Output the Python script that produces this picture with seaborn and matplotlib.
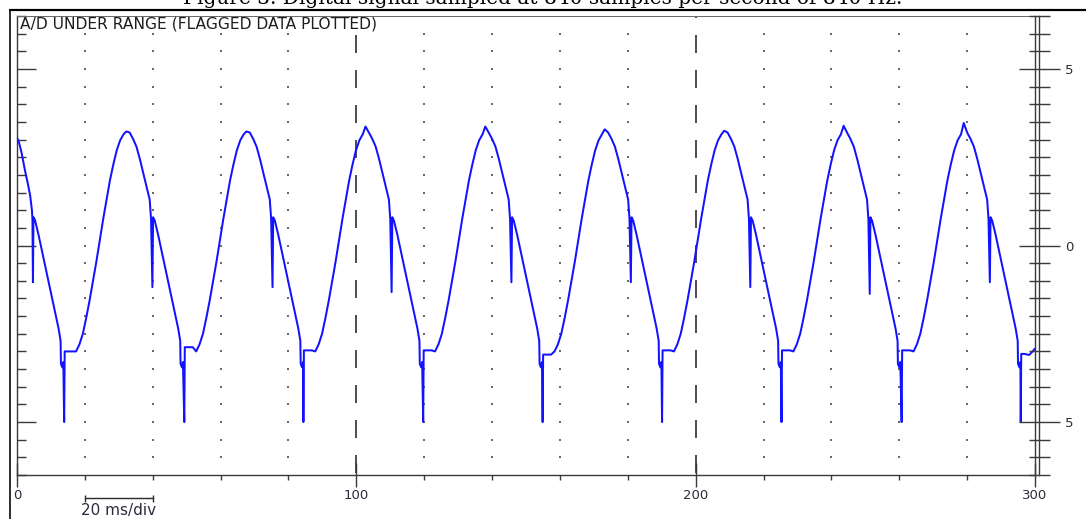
import numpy as np
import pandas as pd
import matplotlib
matplotlib.use("Agg")
import matplotlib.pyplot as plt
import matplotlib.transforms as mtransforms
from matplotlib.lines import Line2D
from matplotlib.ticker import FixedLocator, MultipleLocator
import seaborn as sns

# ---------------------------------------------------------------- data ----
caption = "Figure 3. Digital signal sampled at 840 samples per second of 840 Hz."
status_text = "A/D UNDER RANGE (FLAGGED DATA PLOTTED)"
scale_text = "20 ms/div"

# falling edge at the start of the record (ms, V)
lead_ms = [0.0, 0.5, 1.3, 2.3, 3.2, 3.9, 4.4, 4.55, 4.7, 4.85, 5.3, 6.35, 7.35,
           8.35, 9.35, 10.35, 11.35, 12.25, 12.85, 12.95, 13.35, 13.65]
lead_v = [3.05, 2.95, 2.65, 2.15, 1.75, 1.4, 1.0, 0.75, -1.04, 0.8, 0.72, 0.3,
          -0.15, -0.6, -1.05, -1.5, -1.95, -2.35, -2.7, -3.35, -3.45, -3.3]

# under-range flags (plotted at the -5 V floor) and per-cycle readings
spike_ms = [13.9, 49.3, 84.4, 119.7, 154.9, 190.1, 225.3, 260.7, 295.8]
flag_v = -5.0
floor_v = [-3.0, -2.88, -2.97, -2.97, -3.09, -2.97, -2.97, -2.97, -3.05]
peak_v = [3.23, 3.23, 3.37, 3.37, 3.29, 3.25, 3.39, 3.47]
glitch_v = [-1.18, -1.18, -1.32, -1.04, -1.04, -1.18, -1.37, -1.04]

# waveform of one period, offsets in ms after each flag
floor_off = [0.15, 1.0, 2.5]
rise_off = [3.5, 4.5, 5.5, 6.5, 7.5, 8.5, 9.5, 10.5, 11.5, 12.5, 13.5, 14.5,
            15.5, 16.5, 17.5]
rise_v = [-3.0, -2.8, -2.5, -2.05, -1.55, -1.0, -0.45, 0.15, 0.75, 1.3, 1.85,
          2.3, 2.7, 2.98, 3.15]
peak_off = 18.3
fall_off = [19.3, 20.3, 21.3, 22.3, 23.3, 24.3, 25.2, 25.6]
fall_v = [3.2, 3.02, 2.8, 2.45, 2.05, 1.65, 1.3, 0.75]
glitch_off = 26.0
tail_off = [26.2, 26.7, 27.7, 28.7, 29.7, 30.7, 31.7, 32.7, 33.6, 34.2, 34.3,
            34.7, 35.0]
tail_v = [0.8, 0.7, 0.3, -0.15, -0.6, -1.05, -1.5, -1.95, -2.35, -2.7, -3.35,
          -3.45, -3.3]

# the record ends on the floor after the last flag
end_off = [0.15, 1.0, 2.5, 3.5, 4.2]
end_v = [-3.07, -3.07, -3.1, -3.0, -2.92]

x_major = [0, 100, 200, 300]
x_labels = ["0", "100", "200", "300"]
y_major = [-5, 0, 5]
y_labels = ["5", "0", "5"]
marker_ms = [100, 200]
div_ms = 20

# ------------------------------------------------------- assemble trace ----
t, v = list(lead_ms), list(lead_v)
for k, s in enumerate(spike_ms[:-1]):
    t += [s] + [s + o for o in floor_off]
    v += [flag_v] + [floor_v[k]] * len(floor_off)
    t += [s + o for o in rise_off]
    v += rise_v
    t.append(s + peak_off)
    v.append(peak_v[k])
    t += [s + o for o in fall_off]
    v += fall_v
    t.append(s + glitch_off)
    v.append(glitch_v[k])
    t += [s + o for o in tail_off]
    v += tail_v
s = spike_ms[-1]
t += [s] + [s + o for o in end_off]
v += [flag_v] + end_v
trace = pd.DataFrame({"time_ms": t, "volts": v})

# --------------------------------------------------------------- figure ----
sns.set_theme(style="white")
plt.rcParams["font.family"] = ["DejaVu Sans"]
plt.rcParams["lines.scale_dashes"] = False

W, H, DPI = 1086, 519, 100
PX = 72 / DPI
fig = plt.figure(figsize=(W / DPI, H / DPI), dpi=DPI)
fig.patch.set_facecolor("white")

ax = fig.add_axes([17 / W, (H - 475) / H, (1035 - 17) / W, (475 - 16) / H])
ax.set_facecolor("white")
ax.set_xlim(0, 300)
ax.set_ylim(-6.5, 6.5)
ax.grid(False)

# dotted graticule
dot_x = [x for x in range(div_ms, 300, div_ms) if x not in marker_ms]
dot_y = np.arange(-6.0, 6.01, 0.5)
gx, gy = np.meshgrid(dot_x, dot_y)
ax.scatter(gx.ravel(), gy.ravel(), s=1.3, marker="s", color="#6a6a6a",
           linewidths=0, zorder=1)

# dashed markers every 100 ms
for xm in marker_ms:
    ax.axvline(xm, color="#333333", lw=1.7 * PX,
               linestyle=(33 * PX, (18 * PX, 17 * PX)), zorder=2)

sns.lineplot(data=trace, x="time_ms", y="volts", ax=ax, sort=False,
             estimator=None, color="#1212ff", linewidth=2.0 * PX, zorder=3)
ax.set_xlabel("")
ax.set_ylabel("")

for name, sp in ax.spines.items():
    sp.set_visible(True)
    sp.set_color("#3a3a3a")
    sp.set_linewidth(1.4 * PX)
ax.spines["top"].set_color("#6a6a6a")
ax.spines["top"].set_linewidth(1.0 * PX)

tick_col = "#3a3a3a"
lab_col = "#2c2c3c"
# x axis
ax.xaxis.set_major_locator(FixedLocator(x_major))
ax.set_xticklabels(x_labels)
ax.xaxis.set_minor_locator(MultipleLocator(div_ms))
ax.tick_params(axis="x", which="major", direction="inout", length=24 * PX,
               width=1.4 * PX, color=tick_col, pad=2 * PX, labelsize=9.5,
               labelcolor=lab_col, bottom=True, top=False)
ax.tick_params(axis="x", which="minor", direction="out", length=4.5 * PX,
               width=1.4 * PX, color=tick_col, bottom=True, top=False)
# left ruler (no labels)
ax.yaxis.set_major_locator(FixedLocator(y_major))
ax.yaxis.set_minor_locator(MultipleLocator(0.5))
ax.tick_params(axis="y", which="major", direction="in", length=19 * PX,
               width=1.4 * PX, color=tick_col, left=True, right=False,
               labelleft=False)
ax.tick_params(axis="y", which="minor", direction="in", length=9 * PX,
               width=1.4 * PX, color=tick_col, left=True, right=False)

# right ruler with labels
ax2 = ax.twinx()
ax2.set_ylim(ax.get_ylim())
ax2.grid(False)
for name, sp in ax2.spines.items():
    sp.set_visible(name == "right")
ax2.spines["right"].set_position(("outward", 4 * PX))
ax2.spines["right"].set_color("#3a3a3a")
ax2.spines["right"].set_linewidth(1.4 * PX)
ax2.yaxis.set_major_locator(FixedLocator(y_major))
ax2.set_yticklabels(y_labels)
ax2.yaxis.set_minor_locator(MultipleLocator(0.5))
ax2.tick_params(axis="y", which="major", direction="inout", length=41 * PX,
                width=1.4 * PX, color=tick_col, pad=5.5 * PX, labelsize=9.5,
                labelcolor=lab_col, right=True, left=False)
ax2.tick_params(axis="y", which="minor", direction="inout", length=21 * PX,
                width=1.4 * PX, color=tick_col, right=True, left=False)

# page frame
fig.add_artist(Line2D([10 / W, 1.0], [1 - 10 / H] * 2, transform=fig.transFigure,
                      color="black", lw=2.2 * PX))
fig.add_artist(Line2D([10 / W] * 2, [0.0, 1 - 10 / H], transform=fig.transFigure,
                      color="black", lw=1.6 * PX))

# status line
fig.text(20 / W, 1 - 28.5 / H, status_text, ha="left", va="baseline",
         fontsize=11.2, color="#1e1e1e")

# time-base scale bar below the axis
blend = mtransforms.blended_transform_factory(ax.transData, fig.transFigure)
ybar = 1 - 498 / H
ax.plot([div_ms, 2 * div_ms], [ybar, ybar], transform=blend, clip_on=False,
        color="#2a2a2a", lw=1.4 * PX, marker="|", ms=7 * PX, mew=1.4 * PX)
ax.text(1.5 * div_ms, 1 - 511 / H, scale_text, transform=blend, ha="center",
        va="center", fontsize=11, color=lab_col)

# document caption, clipped by the top edge of the page
cap = fig.text(0.5, 1 - 4.5 / H, caption, ha="center", va="baseline",
               family="DejaVu Serif", fontsize=13.5, color="black")
fig.canvas.draw()
w = cap.get_window_extent(renderer=fig.canvas.get_renderer()).width
cap.set_fontsize(13.5 * 714 / w)

fig.savefig("out.png", dpi=DPI, facecolor="white")
